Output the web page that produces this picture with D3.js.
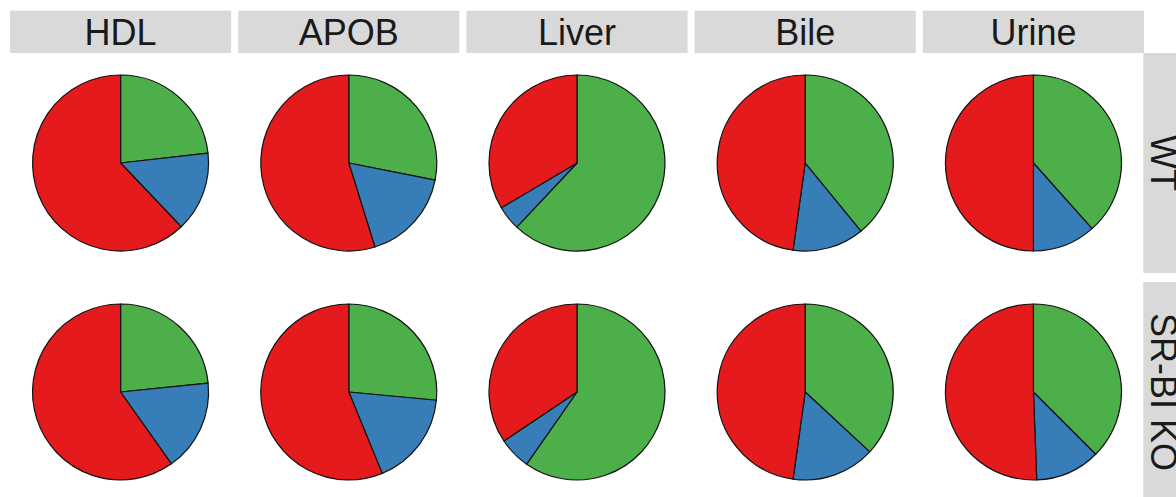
<!DOCTYPE html>
<html>
<head>
<meta charset="utf-8">
<script src="https://cdn.jsdelivr.net/npm/d3@7"></script>
<style>
  html, body { margin: 0; padding: 0; background: #fff; }
  svg { display: block; }
</style>
</head>
<body>
<svg id="chart" width="1176" height="497"></svg>
<script>
// Facet levels
const tissues = ["HDL", "APOB", "Liver", "Bile", "Urine"];
const genotypes = ["WT", "SR-BI KO"];

// Slice order, clockwise from 12 o'clock
const fractions = ["green", "blue", "red"];
const fractionColors = ["#4daf4a", "#377eb8", "#e41a1c"];

// Percent share of each fraction, one array per tissue: [WT, SR-BI KO]
const hdlShares   = [[23.2, 14.7, 62.1], [23.4, 16.8, 59.8]];
const apobShares  = [[28.1, 17.1, 54.8], [26.5, 17.3, 56.2]];
const liverShares = [[62.0, 4.5, 33.5], [59.7, 5.9, 34.4]];
const bileShares  = [[39.1, 13.1, 47.8], [36.9, 15.3, 47.8]];
const urineShares = [[38.4, 11.6, 50.0], [37.5, 11.9, 50.6]];

const sharesByTissue = {
  "HDL": hdlShares, "APOB": apobShares, "Liver": liverShares,
  "Bile": bileShares, "Urine": urineShares
};

const svg = d3.select("#chart");

// Panel grid
const col = d3.scaleBand().domain(tissues).range([10, 1144]).paddingInner(0.031);
const row = d3.scaleBand().domain(genotypes).range([53, 502]).paddingInner(0.039);
const color = d3.scaleOrdinal().domain(fractions).range(fractionColors);

const stripFill = "#d9d9d9";
const stripText = "#1a1a1a";
const fontFamily = "'Liberation Sans', Arial, Helvetica, sans-serif";
const stripTop = 10.7;
const stripH = row.range()[0] - stripTop;

// Column strips
const topStrips = svg.append("g").attr("class", "strips-top");
tissues.forEach(t => {
  topStrips.append("rect")
    .attr("x", col(t)).attr("y", stripTop)
    .attr("width", col.bandwidth()).attr("height", stripH)
    .attr("fill", stripFill);
  topStrips.append("text")
    .attr("x", col(t) + col.bandwidth() / 2)
    .attr("y", stripTop + stripH / 2 + 13)
    .attr("text-anchor", "middle")
    .attr("font-family", fontFamily)
    .attr("font-size", 36)
    .attr("fill", stripText)
    .text(t);
});

// Row strips on the right
const rightX = col.range()[1] - 0.7;
const rightStrips = svg.append("g").attr("class", "strips-right");
genotypes.forEach(g => {
  rightStrips.append("rect")
    .attr("x", rightX).attr("y", row(g))
    .attr("width", stripH).attr("height", row.bandwidth())
    .attr("fill", stripFill);
  const cx = rightX + stripH / 2;
  const cy = row(g) + row.bandwidth() / 2;
  rightStrips.append("text")
    .attr("transform", `translate(${cx},${cy}) rotate(90)`)
    .attr("y", 13)
    .attr("text-anchor", "middle")
    .attr("font-family", fontFamily)
    .attr("font-size", 36)
    .attr("fill", stripText)
    .text(g);
});

// Pies
const pie = d3.pie().sort(null).value(d => d.value);
const radius = 88;
const arc = d3.arc().innerRadius(0).outerRadius(radius);

const panels = svg.append("g").attr("class", "panels");
tissues.forEach(t => {
  genotypes.forEach((g, gi) => {
    const values = sharesByTissue[t][gi];
    const data = fractions.map((f, i) => ({ fraction: f, value: values[i] }));
    const cx = col(t) + col.bandwidth() / 2;
    const cy = row(g) + row.bandwidth() / 2;
    const p = panels.append("g").attr("transform", `translate(${cx},${cy})`);
    p.selectAll("path")
      .data(pie(data))
      .join("path")
      .attr("d", arc)
      .attr("fill", d => color(d.data.fraction))
      .attr("stroke", "#111")
      .attr("stroke-width", 1.2)
      .attr("stroke-linejoin", "round");
  });
});
</script>
</body>
</html>
